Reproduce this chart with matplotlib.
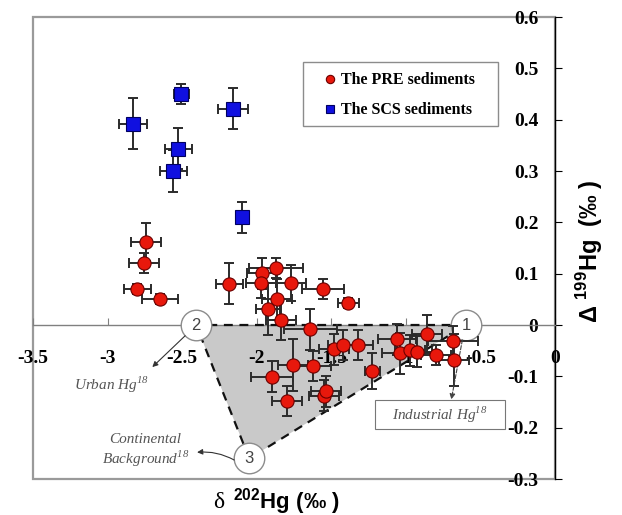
import matplotlib
matplotlib.use("Agg")
import matplotlib.pyplot as plt
from matplotlib.patches import Polygon, Rectangle
from matplotlib.lines import Line2D
from matplotlib.ticker import FixedLocator, FuncFormatter

# ---------------- data ----------------
pre_x = [-2.742, -2.755, -2.80, -2.648, -2.185, -1.964, -1.87, -1.97, -1.77, -1.555,
         -1.387, -1.863, -1.924, -1.837, -1.64, -1.48, -1.42, -1.32, -1.059, -1.04,
         -0.97, -0.925, -0.858, -0.683, -0.797, -0.676, -1.226, -1.756, -1.622, -1.897,
         -1.796, -1.548, -1.535]
pre_y = [0.162, 0.121, 0.070, 0.050, 0.080, 0.101, 0.111, 0.082, 0.082, 0.070,
         0.043, 0.050, 0.031, 0.010, -0.008, -0.047, -0.039, -0.039, -0.028, -0.055,
         -0.049, -0.052, -0.018, -0.031, -0.058, -0.068, -0.090, -0.078, -0.080, -0.101,
         -0.148, -0.138, -0.129]
pre_xerr = [0.10, 0.10, 0.09, 0.12, 0.09, 0.10, 0.18, 0.10, 0.10, 0.14,
            0.07, 0.10, 0.08, 0.10, 0.18, 0.10, 0.10, 0.10, 0.13, 0.12,
            0.10, 0.10, 0.10, 0.17, 0.10, 0.10, 0.05, 0.10, 0.12, 0.14,
            0.10, 0.10, 0.10]
pre_yerr = [0.037, 0.02, 0.01, 0.01, 0.04, 0.03, 0.02, 0.03, 0.035, 0.02,
            0.01, 0.04, 0.05, 0.04, 0.04, 0.03, 0.03, 0.03, 0.03, 0.04,
            0.03, 0.03, 0.037, 0.03, 0.02, 0.05, 0.035, 0.05, 0.03, 0.03,
            0.03, 0.03, 0.03]

scs_x = [-2.83, -2.507, -2.16, -2.527, -2.56, -2.097]
scs_y = [0.392, 0.450, 0.421, 0.343, 0.300, 0.210]
scs_xerr = [0.094, 0.05, 0.10, 0.09, 0.09, 0.03]
scs_yerr = [0.05, 0.02, 0.04, 0.04, 0.04, 0.03]

# source end-members (triangle vertices)
src_labels = ["1", "2", "3"]
src_x = [-0.596, -2.406, -2.05]
src_y = [0.0, 0.0, -0.26]

x_ticks = [-3.5, -3, -2.5, -2, -1.5, -1, -0.5, 0]
y_ticks = [-0.3, -0.2, -0.1, 0, 0.1, 0.2, 0.3, 0.4, 0.5, 0.6]

legend_labels = ["The PRE sediments", "The SCS sediments"]

# annotation text / arrow anchors (data coords)
urban_text = "Urban Hg$^{\\mathregular{18}}$"
urban_pos = (-2.977, -0.117)
urban_arrow = ((-2.48, -0.021), (-2.70, -0.082))
cont_text = "Continental\nBackground$^{\\mathregular{18}}$"
cont_pos = (-2.748, -0.246)
cont_arrow = ((-2.151, -0.263), (-2.40, -0.248))
ind_text = "Industrial Hg$^{\\mathregular{18}}$"
ind_pos = (-0.771, -0.1745)
ind_box = (-1.207, -0.203, 0.872, 0.057)   # x0, y0, width, height
ind_arrow = ((-0.621, -0.029), (-0.695, -0.145))

# ---------------- figure ----------------
fig = plt.figure(figsize=(6.22, 5.15), dpi=100)
ax = fig.add_axes([33 / 622, 1 - 479 / 515, 522 / 622, 462 / 515])
ax.set_xlim(-3.5, 0)
ax.set_ylim(-0.3, 0.6)

# spines
ax.spines["top"].set_visible(False)
ax.spines["right"].set_visible(False)
ax.spines["left"].set_position(("data", 0))
ax.spines["left"].set_color("black")
ax.spines["left"].set_linewidth(1.0)
ax.spines["bottom"].set_position(("data", 0))
ax.spines["bottom"].set_color("#808080")
ax.spines["bottom"].set_linewidth(1.0)
ax.add_patch(Rectangle((0, 0), 1, 1, transform=ax.transAxes, fill=False,
                       ec="#9a9a9a", lw=1.6, zorder=0.5, clip_on=False))

ax.xaxis.set_major_locator(FixedLocator(x_ticks))
ax.yaxis.set_major_locator(FixedLocator(y_ticks))
fmt = FuncFormatter(lambda v, p: "%g" % v)
ax.xaxis.set_major_formatter(fmt)
ax.yaxis.set_major_formatter(fmt)
ax.tick_params(axis="x", direction="in", length=5, width=0.8, color="#808080",
               pad=18, labelsize=14)
ax.tick_params(axis="y", direction="in", length=0, width=0.8, pad=12, labelsize=14)
ax.tick_params(axis="y", which="both", right=False)
for t in ax.yaxis.get_major_ticks():
    t.tick1line.set_marker(matplotlib.markers.TICKRIGHT)
    t.tick1line.set_markersize(5)
for lab in ax.get_xticklabels() + ax.get_yticklabels():
    lab.set_fontfamily("Liberation Serif")
    lab.set_fontweight("bold")

# shaded triangle
tri = Polygon(list(zip(src_x, src_y)), closed=True, fc="#c9c9c9", ec="none", zorder=1)
ax.add_patch(tri)
tri_edge = Polygon(list(zip(src_x, src_y)), closed=True, fill=False, ec="#111111",
                   lw=1.6, ls=(0, (4, 3)), zorder=2.6)
ax.add_patch(tri_edge)

# source circles
ax.plot(src_x, src_y, ls="none", marker="o", ms=22, mfc="white", mec="#8c8c8c",
        mew=1.0, zorder=2.7)
for lbl, sx, sy in zip(src_labels, src_x, src_y):
    ax.text(sx, sy, lbl, ha="center", va="center", fontsize=12,
            family="Liberation Sans", color="#444444", zorder=2.8)

# error bars + markers
ax.errorbar(pre_x, pre_y, xerr=pre_xerr, yerr=pre_yerr, fmt="none", ecolor="#2b2b2b",
            elinewidth=1.4, capsize=3.5, capthick=1.4, zorder=3)
ax.errorbar(scs_x, scs_y, xerr=scs_xerr, yerr=scs_yerr, fmt="none", ecolor="#2b2b2b",
            elinewidth=1.4, capsize=3.5, capthick=1.4, zorder=3)
ax.plot(pre_x, pre_y, ls="none", marker="o", ms=9.5, mfc="#e8180c", mec="#6a0000",
        mew=0.8, zorder=4)
ax.plot(scs_x, scs_y, ls="none", marker="s", ms=9.5, mfc="#1010e0", mec="#000060",
        mew=0.8, zorder=4)

# annotations
ann_style = dict(family="Liberation Serif", style="italic", color="#555555", fontsize=11)
ax.text(*urban_pos, urban_text, ha="center", va="center", **ann_style)
ax.annotate("", xy=urban_arrow[1], xytext=urban_arrow[0],
            arrowprops=dict(arrowstyle="-|>", color="#333333", lw=0.8,
                            mutation_scale=8, shrinkA=0, shrinkB=0))
ax.text(*cont_pos, cont_text, ha="center", va="center", linespacing=1.15, **ann_style)
ax.annotate("", xy=cont_arrow[1], xytext=cont_arrow[0],
            arrowprops=dict(arrowstyle="-|>", color="#333333", lw=0.8,
                            mutation_scale=8, shrinkA=0, shrinkB=0,
                            connectionstyle="arc3,rad=0.15"))
ax.add_patch(Rectangle(ind_box[:2], ind_box[2], ind_box[3], fc="white", ec="#777777",
                       lw=0.8, zorder=5))
ax.text(*ind_pos, ind_text, ha="center", va="center", zorder=5.5, **ann_style)
ax.annotate("", xy=ind_arrow[1], xytext=ind_arrow[0],
            arrowprops=dict(arrowstyle="-|>", color="#444444", lw=0.8, ls="--",
                            mutation_scale=8, shrinkA=0, shrinkB=0))

# legend (frame drawn separately to match the wide side padding)
handles = [Line2D([], [], ls="none", marker="o", ms=6, mfc="#e8180c", mec="#6a0000", mew=0.8),
           Line2D([], [], ls="none", marker="s", ms=6, mfc="#1010e0", mec="#000060", mew=0.8)]
leg = ax.legend(handles, legend_labels, loc="upper left", bbox_to_anchor=(0.5584, 0.880),
                borderaxespad=0, borderpad=0, frameon=False,
                prop=dict(family="Liberation Serif", weight="bold", size=11.5),
                handlelength=0.7, handletextpad=0.35, labelspacing=0.88)
leg.set_zorder(6)
ax.add_patch(Rectangle((0.517, 0.764), 0.3736, 0.1385, transform=ax.transAxes,
                       fc="white", ec="#8c8c8c", lw=1.0, zorder=5.9))

# axis labels
ax.text(0.366, -0.0628, "δ", transform=ax.transAxes, ha="right", va="baseline",
        family="Liberation Serif", fontsize=17)
ax.text(0.384, -0.0628, "$^{\\mathregular{202}}$Hg (‰ )", transform=ax.transAxes,
        ha="left", va="baseline", family="Liberation Sans", weight="bold", fontsize=16)
ax.text(1.067, 0.494, "Δ $^{\\mathregular{199}}$Hg  (‰ )", transform=ax.transAxes,
        ha="center", va="center", rotation=90, family="Liberation Sans",
        weight="bold", fontsize=17)

fig.savefig("out.png", dpi=100)
